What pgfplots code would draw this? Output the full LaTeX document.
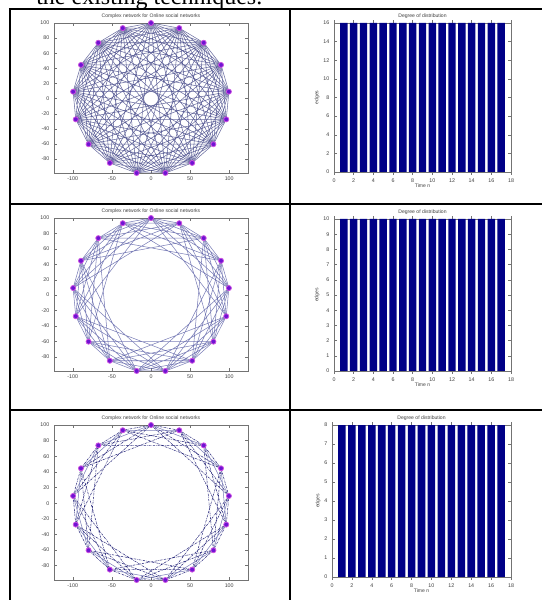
\documentclass[border=0pt]{standalone}
\usepackage{fontspec}
\setmainfont{Liberation Serif}
\newfontfamily\arialf{Liberation Sans}
\usepackage{pgfplots}
\pgfplotsset{compat=1.18}
\definecolor{navybar}{RGB}{0,0,135}
\definecolor{edgeblue}{RGB}{80,85,160}
\definecolor{edgedark}{RGB}{20,20,110}
\definecolor{nodefill}{RGB}{110,20,210}
\definecolor{nodeedge}{RGB}{205,80,225}
\pgfplotsset{
  common/.style={scale only axis, anchor=south west,
    axis line style={black!55, line width=0.35pt},
    tick style={black!55, line width=0.3pt},
    major tick length=2pt,
    tick label style={font=\arialf\fontsize{4}{4}\selectfont, text=black!75},
    /pgf/number format/assume math mode=true,
    title style={yshift=-4pt, font=\arialf\fontsize{3.8}{4}\selectfont, text=black!75, inner sep=1pt},
    label style={font=\arialf\fontsize{3.8}{4}\selectfont, text=black!75},
    xticklabel style={yshift=0.5pt},
  },
  netax/.style={common, width=145.5pt, xmin=-124, xmax=124, ymin=-98.3, ymax=100,
    xtick={-100,-50,0,50,100}, ytick={-80,-60,-40,-20,0,20,40,60,80,100},
    title={Complex network for Online social networks}},
  barax/.style={common, width=132.75pt, xmin=0, xmax=18, ymin=0,
    xtick={0,2,4,6,8,10,12,14,16,18},
    title={Degree of distribution}, xlabel={Time n}, ylabel={edges},
    xlabel style={yshift=6pt}, ylabel style={yshift=-4pt},
    ybar, bar width=0.76},
  e1/.style={edgeblue, line width=0.4pt, opacity=0.75},
  e1d/.style={edgeblue!85!black, line width=0.4pt, opacity=0.8},
  e3/.style={edgedark, line width=0.4pt, opacity=0.9, dash pattern=on 1.6pt off 0.7pt on 0.4pt off 0.7pt},
  nodes/.style={only marks, mark=*, mark size=1.9pt, mark options={fill=nodefill, draw=nodeedge, line width=0.6pt}},
  bars/.style={fill=navybar, draw=none},
}
\begin{document}
\begin{tikzpicture}
\useasboundingbox (0,0) rectangle (406.5pt,450pt);
\begin{scope}
\clip (0,0) rectangle (406.5pt,450pt);
\node[anchor=base west, inner sep=0pt, font=\fontsize{18}{20}\selectfont] at (27pt,446.8pt) {the existing techniques.};
\end{scope}
% table rules
\draw[line width=1.7pt] (7.5pt,0) -- (7.5pt,443.25pt);
\draw[line width=1.7pt] (6.65pt,443.25pt) -- (406.5pt,443.25pt);
\draw[line width=1.7pt] (217.5pt,0) -- (217.5pt,443.25pt);
\draw[line width=1.7pt] (7.5pt,297pt) -- (406.5pt,297pt);
\draw[line width=1.7pt] (7.5pt,142.5pt) -- (406.5pt,142.5pt);

% ---------- row 1 network (complete graph)
\begin{axis}[netax, height=112.5pt, at={(40.5pt,320.25pt)}]
\addplot[e1d] coordinates {(0,100) (36.12,93.25) (67.37,73.90) (89.52,44.57) (99.57,9.23) (96.18,-27.37) (79.80,-60.26) (52.64,-85.02) (18.38,-98.30) (-18.38,-98.30) (-52.64,-85.02) (-79.80,-60.26) (-96.18,-27.37) (-99.57,9.23) (-89.52,44.57) (-67.37,73.90) (-36.12,93.25) (0,100)};
\addplot[e1d] coordinates {(0,100) (67.37,73.90) (99.57,9.23) (79.80,-60.26) (18.38,-98.30) (-52.64,-85.02) (-96.18,-27.37) (-89.52,44.57) (-36.12,93.25) (36.12,93.25) (89.52,44.57) (96.18,-27.37) (52.64,-85.02) (-18.38,-98.30) (-79.80,-60.26) (-99.57,9.23) (-67.37,73.90) (0,100)};
\addplot[e1d] coordinates {(0,100) (89.52,44.57) (79.80,-60.26) (-18.38,-98.30) (-96.18,-27.37) (-67.37,73.90) (36.12,93.25) (99.57,9.23) (52.64,-85.02) (-52.64,-85.02) (-99.57,9.23) (-36.12,93.25) (67.37,73.90) (96.18,-27.37) (18.38,-98.30) (-79.80,-60.26) (-89.52,44.57) (0,100)};
\addplot[e1d] coordinates {(0,100) (99.57,9.23) (18.38,-98.30) (-96.18,-27.37) (-36.12,93.25) (89.52,44.57) (52.64,-85.02) (-79.80,-60.26) (-67.37,73.90) (67.37,73.90) (79.80,-60.26) (-52.64,-85.02) (-89.52,44.57) (36.12,93.25) (96.18,-27.37) (-18.38,-98.30) (-99.57,9.23) (0,100)};
\addplot[e1d] coordinates {(0,100) (96.18,-27.37) (-52.64,-85.02) (-67.37,73.90) (89.52,44.57) (18.38,-98.30) (-99.57,9.23) (36.12,93.25) (79.80,-60.26) (-79.80,-60.26) (-36.12,93.25) (99.57,9.23) (-18.38,-98.30) (-89.52,44.57) (67.37,73.90) (52.64,-85.02) (-96.18,-27.37) (0,100)};
\addplot[e1d] coordinates {(0,100) (79.80,-60.26) (-96.18,-27.37) (36.12,93.25) (52.64,-85.02) (-99.57,9.23) (67.37,73.90) (18.38,-98.30) (-89.52,44.57) (89.52,44.57) (-18.38,-98.30) (-67.37,73.90) (99.57,9.23) (-52.64,-85.02) (-36.12,93.25) (96.18,-27.37) (-79.80,-60.26) (0,100)};
\addplot[e1d] coordinates {(0,100) (52.64,-85.02) (-89.52,44.57) (99.57,9.23) (-79.80,-60.26) (36.12,93.25) (18.38,-98.30) (-67.37,73.90) (96.18,-27.37) (-96.18,-27.37) (67.37,73.90) (-18.38,-98.30) (-36.12,93.25) (79.80,-60.26) (-99.57,9.23) (89.52,44.57) (-52.64,-85.02) (0,100)};
\addplot[e1d] coordinates {(0,100) (18.38,-98.30) (-36.12,93.25) (52.64,-85.02) (-67.37,73.90) (79.80,-60.26) (-89.52,44.57) (96.18,-27.37) (-99.57,9.23) (99.57,9.23) (-96.18,-27.37) (89.52,44.57) (-79.80,-60.26) (67.37,73.90) (-52.64,-85.02) (36.12,93.25) (-18.38,-98.30) (0,100)};
\addplot[nodes] coordinates {(0,100) (36.12,93.25) (67.37,73.90) (89.52,44.57) (99.57,9.23) (96.18,-27.37) (79.80,-60.26) (52.64,-85.02) (18.38,-98.30) (-18.38,-98.30) (-52.64,-85.02) (-79.80,-60.26) (-96.18,-27.37) (-99.57,9.23) (-89.52,44.57) (-67.37,73.90) (-36.12,93.25)};
\end{axis}

% ---------- row 1 bars
\begin{axis}[barax, height=111.75pt, at={(250.5pt,321pt)}, ymax=16, ytick={0,2,4,6,8,10,12,14,16}]
\addplot[bars] coordinates {(1,16) (2,16) (3,16) (4,16) (5,16) (6,16) (7,16) (8,16) (9,16) (10,16) (11,16) (12,16) (13,16) (14,16) (15,16) (16,16) (17,16)};
\end{axis}

% ---------- row 2 network (offsets 1..5)
\begin{axis}[netax, height=114.75pt, at={(40.5pt,171.75pt)}]
\addplot[e1] coordinates {(0,100) (36.12,93.25) (67.37,73.90) (89.52,44.57) (99.57,9.23) (96.18,-27.37) (79.80,-60.26) (52.64,-85.02) (18.38,-98.30) (-18.38,-98.30) (-52.64,-85.02) (-79.80,-60.26) (-96.18,-27.37) (-99.57,9.23) (-89.52,44.57) (-67.37,73.90) (-36.12,93.25) (0,100)};
\addplot[e1] coordinates {(0,100) (67.37,73.90) (99.57,9.23) (79.80,-60.26) (18.38,-98.30) (-52.64,-85.02) (-96.18,-27.37) (-89.52,44.57) (-36.12,93.25) (36.12,93.25) (89.52,44.57) (96.18,-27.37) (52.64,-85.02) (-18.38,-98.30) (-79.80,-60.26) (-99.57,9.23) (-67.37,73.90) (0,100)};
\addplot[e1] coordinates {(0,100) (89.52,44.57) (79.80,-60.26) (-18.38,-98.30) (-96.18,-27.37) (-67.37,73.90) (36.12,93.25) (99.57,9.23) (52.64,-85.02) (-52.64,-85.02) (-99.57,9.23) (-36.12,93.25) (67.37,73.90) (96.18,-27.37) (18.38,-98.30) (-79.80,-60.26) (-89.52,44.57) (0,100)};
\addplot[e1] coordinates {(0,100) (99.57,9.23) (18.38,-98.30) (-96.18,-27.37) (-36.12,93.25) (89.52,44.57) (52.64,-85.02) (-79.80,-60.26) (-67.37,73.90) (67.37,73.90) (79.80,-60.26) (-52.64,-85.02) (-89.52,44.57) (36.12,93.25) (96.18,-27.37) (-18.38,-98.30) (-99.57,9.23) (0,100)};
\addplot[e1] coordinates {(0,100) (96.18,-27.37) (-52.64,-85.02) (-67.37,73.90) (89.52,44.57) (18.38,-98.30) (-99.57,9.23) (36.12,93.25) (79.80,-60.26) (-79.80,-60.26) (-36.12,93.25) (99.57,9.23) (-18.38,-98.30) (-89.52,44.57) (67.37,73.90) (52.64,-85.02) (-96.18,-27.37) (0,100)};
\addplot[nodes] coordinates {(0,100) (36.12,93.25) (67.37,73.90) (89.52,44.57) (99.57,9.23) (96.18,-27.37) (79.80,-60.26) (52.64,-85.02) (18.38,-98.30) (-18.38,-98.30) (-52.64,-85.02) (-79.80,-60.26) (-96.18,-27.37) (-99.57,9.23) (-89.52,44.57) (-67.37,73.90) (-36.12,93.25)};
\end{axis}

% ---------- row 2 bars
\begin{axis}[barax, height=114pt, at={(250.5pt,171.75pt)}, ymax=10, ytick={0,1,2,3,4,5,6,7,8,9,10}]
\addplot[bars] coordinates {(1,10) (2,10) (3,10) (4,10) (5,10) (6,10) (7,10) (8,10) (9,10) (10,10) (11,10) (12,10) (13,10) (14,10) (15,10) (16,10) (17,10)};
\end{axis}

% ---------- row 3 network (offsets 1..4)
\begin{axis}[netax, height=116.25pt, at={(40.5pt,15pt)}]
\addplot[e3] coordinates {(0,100) (36.12,93.25) (67.37,73.90) (89.52,44.57) (99.57,9.23) (96.18,-27.37) (79.80,-60.26) (52.64,-85.02) (18.38,-98.30) (-18.38,-98.30) (-52.64,-85.02) (-79.80,-60.26) (-96.18,-27.37) (-99.57,9.23) (-89.52,44.57) (-67.37,73.90) (-36.12,93.25) (0,100)};
\addplot[e1] coordinates {(0,100) (67.37,73.90) (99.57,9.23) (79.80,-60.26) (18.38,-98.30) (-52.64,-85.02) (-96.18,-27.37) (-89.52,44.57) (-36.12,93.25) (36.12,93.25) (89.52,44.57) (96.18,-27.37) (52.64,-85.02) (-18.38,-98.30) (-79.80,-60.26) (-99.57,9.23) (-67.37,73.90) (0,100)};
\addplot[e3] coordinates {(0,100) (89.52,44.57) (79.80,-60.26) (-18.38,-98.30) (-96.18,-27.37) (-67.37,73.90) (36.12,93.25) (99.57,9.23) (52.64,-85.02) (-52.64,-85.02) (-99.57,9.23) (-36.12,93.25) (67.37,73.90) (96.18,-27.37) (18.38,-98.30) (-79.80,-60.26) (-89.52,44.57) (0,100)};
\addplot[e3] coordinates {(0,100) (99.57,9.23) (18.38,-98.30) (-96.18,-27.37) (-36.12,93.25) (89.52,44.57) (52.64,-85.02) (-79.80,-60.26) (-67.37,73.90) (67.37,73.90) (79.80,-60.26) (-52.64,-85.02) (-89.52,44.57) (36.12,93.25) (96.18,-27.37) (-18.38,-98.30) (-99.57,9.23) (0,100)};
\addplot[nodes] coordinates {(0,100) (36.12,93.25) (67.37,73.90) (89.52,44.57) (99.57,9.23) (96.18,-27.37) (79.80,-60.26) (52.64,-85.02) (18.38,-98.30) (-18.38,-98.30) (-52.64,-85.02) (-79.80,-60.26) (-96.18,-27.37) (-99.57,9.23) (-89.52,44.57) (-67.37,73.90) (-36.12,93.25)};
\end{axis}

% ---------- row 3 bars
\begin{axis}[barax, width=134.25pt, height=114pt, at={(249pt,17.25pt)}, ymax=8, ytick={0,1,2,3,4,5,6,7,8}]
\addplot[bars] coordinates {(1,8) (2,8) (3,8) (4,8) (5,8) (6,8) (7,8) (8,8) (9,8) (10,8) (11,8) (12,8) (13,8) (14,8) (15,8) (16,8) (17,8)};
\end{axis}
\end{tikzpicture}
\end{document}
